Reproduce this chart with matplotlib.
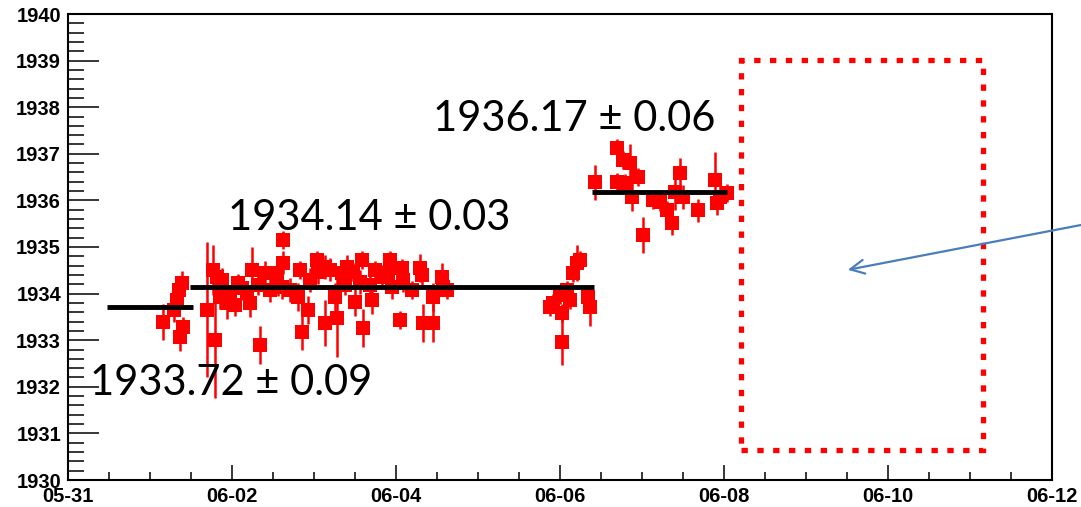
import matplotlib.pyplot as plt
import numpy as np
from matplotlib.patches import Rectangle
from matplotlib.ticker import MultipleLocator

# time in days counted from 05-31 00:00
day = [1.16, 1.29, 1.33, 1.35, 1.39, 1.37, 1.40,
       1.695, 1.793, 1.768, 1.817, 1.854, 1.878, 1.939, 1.976, 2.037, 2.073,
       2.122, 2.183, 2.244, 2.220, 2.317, 2.341, 2.402, 2.463, 2.549, 2.561,
       2.622, 2.622, 2.610, 2.707, 2.829, 2.805, 2.854, 2.927, 2.951, 3.037,
       3.049, 3.134, 3.134, 3.195, 3.256, 3.280, 3.341, 3.378, 3.402, 3.476,
       3.500, 3.585, 3.561, 3.598, 3.683, 3.707, 3.744, 3.829, 3.927, 3.902,
       3.951, 4.049, 4.073, 4.085, 4.195, 4.293, 4.317, 4.329, 4.451, 4.451,
       4.561, 4.573, 4.622,
       5.878, 5.915, 6.000, 6.024, 6.024, 6.085, 6.122, 6.159, 6.207, 6.244,
       6.341, 6.366,
       6.427, 6.695, 6.695, 6.768, 6.793, 6.854, 6.878, 6.951, 7.012, 7.134,
       7.220, 7.305, 7.366, 7.402, 7.463, 7.500, 7.683, 7.890, 7.915, 7.951,
       8.037]
value = [1933.39, 1933.65, 1933.86, 1934.08, 1934.23, 1933.07, 1933.28,
         1933.65, 1933.00, 1934.51, 1934.36, 1933.93, 1934.29, 1933.80, 1933.93,
         1933.76, 1934.23, 1934.12, 1934.01, 1934.51, 1933.80, 1934.18, 1932.90,
         1934.44, 1934.08, 1934.44, 1934.14, 1935.15, 1934.66, 1934.14, 1934.08,
         1934.51, 1933.93, 1933.18, 1933.65, 1934.29, 1934.72, 1934.46, 1934.57,
         1933.37, 1934.51, 1933.93, 1933.48, 1934.44, 1934.18, 1934.57, 1934.46,
         1933.82, 1934.72, 1934.25, 1933.26, 1934.18, 1933.86, 1934.51, 1934.36,
         1934.72, 1934.44, 1934.14, 1933.43, 1934.55, 1934.29, 1934.08, 1934.55,
         1934.40, 1933.37, 1933.37, 1933.93, 1934.36, 1934.14, 1934.08,
         1933.71, 1933.80, 1933.97, 1932.96, 1933.58, 1934.08, 1933.86, 1934.44,
         1934.66, 1934.72, 1933.93, 1933.71,
         1936.39, 1937.12, 1936.39, 1936.87, 1936.37, 1936.80, 1936.07, 1936.50,
         1935.26, 1936.01, 1935.97, 1935.79, 1935.51, 1936.18, 1936.59, 1936.07,
         1935.79, 1936.44, 1935.94, 1936.07, 1936.16]
error = [0.39, 0.26, 0.26, 0.21, 0.26, 0.30, 0.21,
         1.45, 1.25, 0.54, 0.30, 0.25, 0.25, 0.35, 0.20, 0.25, 0.20, 0.25, 0.20,
         0.50, 0.30, 0.20, 0.40, 0.25, 0.25, 0.20, 0.20, 0.20, 0.25, 0.25, 0.25,
         0.20, 0.30, 0.38, 0.30, 0.25, 0.20, 0.25, 0.25, 0.50, 0.25, 0.30, 0.85,
         0.25, 0.20, 0.25, 0.20, 0.30, 0.20, 0.25, 0.40, 0.20, 0.30, 0.20, 0.25,
         0.20, 0.25, 0.25, 0.20, 0.20, 0.25, 0.20, 0.30, 0.25, 0.40, 0.40, 0.30,
         0.30, 0.20, 0.20,
         0.20, 0.20, 0.20, 0.50, 0.20, 0.20, 0.20, 0.20, 0.38, 0.20, 0.20, 0.40,
         0.38, 0.20, 0.20, 0.20, 0.20, 0.42, 0.30, 0.20, 0.38, 0.20, 0.20, 0.20,
         0.25, 0.38, 0.33, 0.25, 0.25, 0.60, 0.25, 0.25, 0.20]

# constant fits: (start day, end day, mean, error)
fit_start = [0.48, 1.49, 6.39]
fit_end = [1.52, 6.41, 8.04]
fit_mean = [1933.72, 1934.14, 1936.17]
fit_err = [0.09, 0.03, 0.06]

xtick_pos = [0, 2, 4, 6, 8, 10, 12]
xtick_lab = ['05-31', '06-02', '06-04', '06-06', '06-08', '06-10', '06-12']

fig = plt.figure(figsize=(10.81, 5.07), dpi=100)
ax = fig.add_axes([68 / 1081, 27 / 507, 984 / 1081, 466 / 507])

ax.errorbar(day, value, yerr=error, fmt='s', color='#ff0000', ms=9.5, mew=0,
            elinewidth=1.8, capsize=3.5, capthick=1.8, zorder=3)

for x0, x1, m in zip(fit_start, fit_end, fit_mean):
    ax.plot([x0, x1], [m, m], color='black', lw=3.5, solid_capstyle='butt', zorder=4)

# labels with the fit result
lab_pos = [(1.99, 1932.08), (3.67, 1935.62), (6.17, 1937.75)]
for (tx, ty), m, e in zip(lab_pos, fit_mean, fit_err):
    ax.text(tx, ty, f'{m:.2f} ± {e:.2f}', fontsize=30, family='Lato',
            ha='center', va='center', zorder=5)

ax.add_patch(Rectangle((8.21, 1930.64), 2.95, 8.37, fill=False, ec='#ff0000',
                       lw=3.8, ls=(0, (1.2, 1.8)), zorder=5))

ax.annotate('', xy=(9.51, 1934.51), xycoords='data',
            xytext=(1.0, 1 - 225 / 507), textcoords='figure fraction',
            arrowprops=dict(arrowstyle='->,head_length=1.0,head_width=0.5',
                            color='#4a7ebb', lw=1.6, shrinkA=0, shrinkB=0),
            annotation_clip=False, zorder=6)

ax.set_xlim(0, 12)
ax.set_ylim(1930, 1940)
ax.set_xticks(xtick_pos)
ax.set_xticklabels(xtick_lab)
ax.xaxis.set_minor_locator(MultipleLocator(0.5))
ax.yaxis.set_major_locator(MultipleLocator(1))
ax.yaxis.set_minor_locator(MultipleLocator(0.2))

for s in ax.spines.values():
    s.set_linewidth(1.5)
ax.tick_params(axis='x', which='major', direction='in', length=11, width=1.1, pad=5)
ax.tick_params(axis='x', which='minor', direction='in', length=6, width=1.1)
ax.tick_params(axis='y', which='major', direction='in', length=22, width=1.1, pad=5)
ax.tick_params(axis='y', which='minor', direction='in', length=11.5, width=1.1)
for t in ax.get_xticklabels() + ax.get_yticklabels():
    t.set_fontfamily('Liberation Sans')
    t.set_fontweight('bold')
    t.set_fontsize(14.5)

plt.savefig('out.png', dpi=100)
